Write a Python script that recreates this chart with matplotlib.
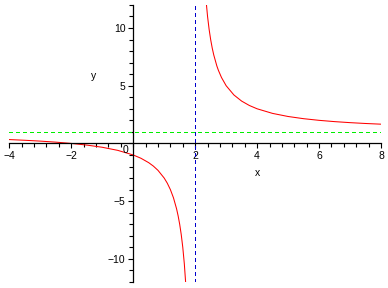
import numpy as np
import matplotlib
matplotlib.use('Agg')
import matplotlib.pyplot as plt
from matplotlib.ticker import MultipleLocator

plt.rcParams['font.family'] = ['Liberation Sans', 'DejaVu Sans']

# left branch (x < 2)
x_left = [-4, -3.5, -3, -2.5, -2, -1.5, -1, -0.5, 0, 0.25, 0.5, 0.65, 0.8, 1.0,
          1.1, 1.2, 1.3, 1.4, 1.45, 1.5, 1.55, 1.6, 1.65, 1.7]
y_left = [0.333, 0.273, 0.2, 0.111, 0, -0.143, -0.333, -0.6, -1, -1.286, -1.667,
          -1.963, -2.333, -3, -3.444, -4, -4.714, -5.667, -6.273, -7, -7.889, -9,
          -10.43, -12.33]
# right branch (x > 2)
x_right = [2.35, 2.4, 2.45, 2.5, 2.55, 2.6, 2.7, 2.75, 2.85, 3, 3.25, 3.5, 3.75,
           4, 4.5, 5, 5.5, 6, 6.5, 7, 7.5, 8]
y_right = [12.43, 11, 9.89, 9, 8.27, 7.667, 6.71, 6.333, 5.71, 5, 4.2, 3.667,
           3.286, 3, 2.6, 2.333, 2.143, 2, 1.889, 1.8, 1.727, 1.667]

asym_x = 2
asym_y = 1
x_ticks = [-4, -2, 2, 4, 6, 8]
y_ticks = [-10, -5, 5, 10]

fig = plt.figure(figsize=(3.88, 2.88), dpi=100)
ax = fig.add_axes([0.024, 0.021, 0.958, 0.962])

ax.plot(x_left, y_left, color='red', lw=0.75)
ax.plot(x_right, y_right, color='red', lw=0.75)
ax.axvline(asym_x, color='#0000cc', lw=0.72, ls=(0, (4, 3)), antialiased=False)
ax.axhline(asym_y, color='#00ee00', lw=0.72, ls=(0, (4, 3)), antialiased=False)

ax.set_xlim(-4, 8)
ax.set_ylim(-12, 12)

for s in ['top', 'right']:
    ax.spines[s].set_visible(False)
ax.spines['left'].set_position(('data', 0))
ax.spines['bottom'].set_position(('data', 0))
ax.spines['left'].set_linewidth(0.9)
ax.spines['bottom'].set_linewidth(0.9)

ax.set_xticks(x_ticks)
ax.set_yticks(y_ticks)
ax.set_xticklabels([str(t).replace('-', '\u2212') for t in x_ticks])
ax.set_yticklabels([str(t).replace('-', '\u2212') for t in y_ticks])
ax.xaxis.set_minor_locator(MultipleLocator(0.4))
ax.yaxis.set_minor_locator(MultipleLocator(1))
ax.tick_params(which='major', direction='out', length=3.5, width=0.8,
               labelsize=7.5, pad=2)
ax.tick_params(which='minor', direction='out', length=3, width=0.8)

ax.text(-0.25, -0.6, '0', fontsize=7.5, ha='center', va='center')
ax.text(4.0, -2.6, 'x', fontsize=7.5, ha='center', va='center')
ax.text(-1.29, 5.8, 'y', fontsize=7.5, ha='center', va='center')

fig.savefig('out.png', dpi=100)
